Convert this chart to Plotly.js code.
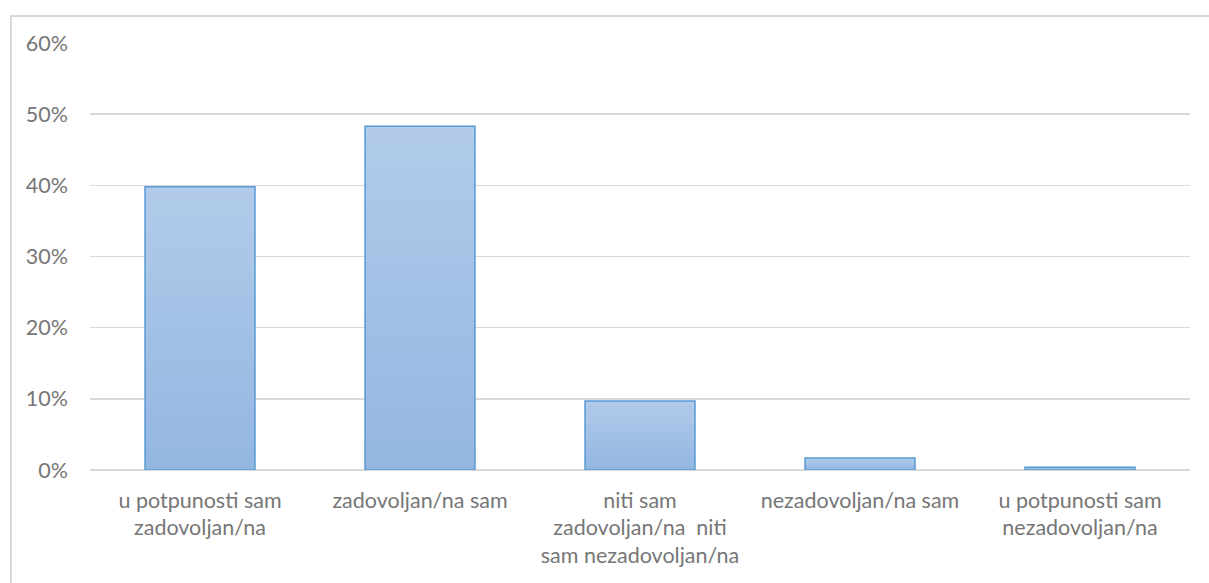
<!DOCTYPE html>
<html>
<head>
<meta charset="utf-8">
<script src="https://cdn.plot.ly/plotly-3.0.1.min.js"></script>
<style>
  html, body { margin: 0; padding: 0; width: 1209px; height: 583px; overflow: hidden; background: #fff; }
  #frame { position: absolute; left: 10px; top: 15px; width: 1300px; height: 700px; border-left: 2px solid #d9d9d9; border-top: 2px solid #d9d9d9; }
  #chart { position: absolute; left: 0; top: 0; width: 1209px; height: 583px; }
</style>
</head>
<body>
<div id="frame"></div>
<div id="chart"></div>
<script>
const categories = [
  "u potpunosti sam<br>zadovoljan/na",
  "zadovoljan/na sam",
  "niti sam<br>zadovoljan/na\u00a0 niti<br>sam nezadovoljan/na",
  "nezadovoljan/na sam",
  "u potpunosti sam<br>nezadovoljan/na"
];
const values = [0.398, 0.483, 0.097, 0.017, 0.004];
const yTickVals = [0, 0.1, 0.2, 0.3, 0.4, 0.5, 0.6];
const yTickText = ["0%", "10%", "20%", "30%", "40%", "50%", "60%"];

const trace = {
  type: 'bar',
  x: categories,
  y: values,
  width: 0.5,
  marker: { color: '#a3c1e6', line: { color: '#5b9bd5', width: 1.5 } },
  hoverinfo: 'none'
};

const layout = {
  width: 1209, height: 583,
  margin: { l: 90, r: 19, t: 43, b: 113 },
  paper_bgcolor: 'rgba(0,0,0,0)',
  plot_bgcolor: 'rgba(0,0,0,0)',
  font: { family: 'Lato, "Open Sans", sans-serif', size: 21.5, color: '#767676' },
  showlegend: false,
  bargap: 0.5,
  xaxis: {
    type: 'category',
    showgrid: false, zeroline: false, showline: false,
    ticks: '', ticklabelstandoff: 15,
    tickfont: { size: 21.5, color: '#767676' }
  },
  yaxis: {
    range: [0, 0.6],
    tickvals: yTickVals, ticktext: yTickText,
    showgrid: true, gridcolor: '#d9d9d9', gridwidth: 1.5,
    zeroline: true, zerolinecolor: '#d9d9d9', zerolinewidth: 1.5,
    showline: false, ticks: '', ticklabelstandoff: 21,
    tickfont: { size: 21.5, color: '#767676' }
  }
};

Plotly.newPlot('chart', [trace], layout, { staticPlot: true, displayModeBar: false }).then(function (gd) {
  const svg = gd.querySelector('svg.main-svg');
  const ns = 'http://www.w3.org/2000/svg';
  let defs = svg.querySelector('defs');
  if (!defs) { defs = document.createElementNS(ns, 'defs'); svg.insertBefore(defs, svg.firstChild); }
  const grad = document.createElementNS(ns, 'linearGradient');
  grad.setAttribute('id', 'barGrad');
  grad.setAttribute('x1', '0'); grad.setAttribute('y1', '0');
  grad.setAttribute('x2', '0'); grad.setAttribute('y2', '1');
  [['0', '#b2cbea'], ['1', '#93b6e1']].forEach(function (s) {
    const st = document.createElementNS(ns, 'stop');
    st.setAttribute('offset', s[0]);
    st.setAttribute('stop-color', s[1]);
    grad.appendChild(st);
  });
  defs.appendChild(grad);
  gd.querySelectorAll('.bars .point path').forEach(function (p) {
    p.style.fill = 'url(#barGrad)';
  });
});
</script>
</body>
</html>
